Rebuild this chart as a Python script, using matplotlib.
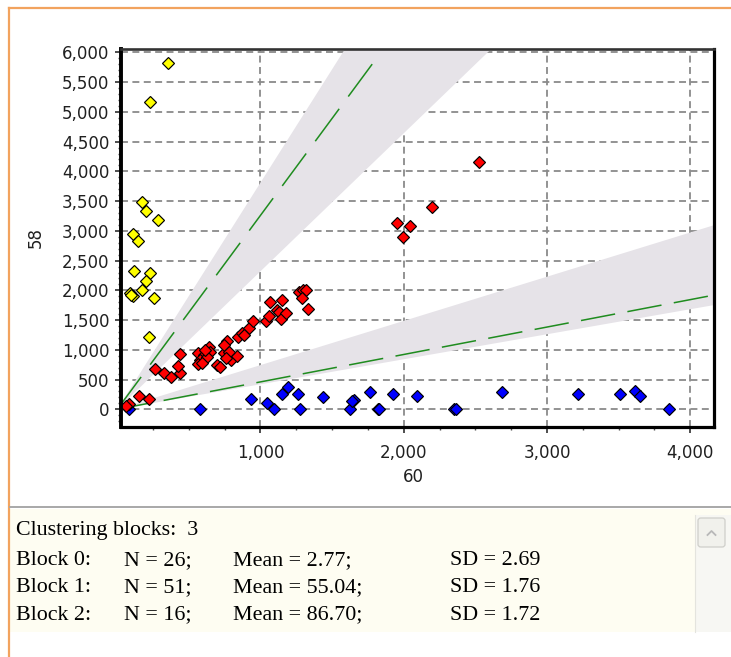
import matplotlib
matplotlib.use('Agg')
import matplotlib.pyplot as plt
from matplotlib.patches import Rectangle, FancyBboxPatch
from matplotlib.lines import Line2D
from matplotlib.ticker import FixedLocator, MultipleLocator, FuncFormatter

plt.rcParams['lines.scale_dashes'] = False

# ---------------- data ----------------
yellow_x = [353, 232, 174, 202, 286, 109, 146, 119, 232, 204, 174, 88, 107, 256, 221, 98]
yellow_y = [5822, 5173, 3490, 3327, 3176, 2953, 2829, 2326, 2292, 2158, 2002, 1956, 1901, 1873, 1208, 1930]

red_x = [81, 151, 221, 267, 325, 379, 435, 425, 435, 565, 639, 651, 605, 581, 563, 628, 593,
         698, 716, 744, 767, 744, 796, 837, 844, 872, 923, 949, 1040, 1063, 1070, 1112, 1128,
         1151, 1140, 1180, 1267, 1295, 1319, 1288, 1331, 2523, 2198, 1954, 2047, 1994,
         60, 779, 756, 885, 610]
red_y = [84, 228, 173, 676, 614, 537, 604, 731, 928, 940, 1050, 966, 911, 827, 755, 872, 782,
         743, 715, 939, 1146, 1079, 827, 894, 1218, 1285, 1359, 1487, 1487, 1565, 1805, 1678, 1638,
         1840, 1515, 1621, 1973, 2002, 2013, 1868, 1680, 4154, 3399, 3138, 3081, 2896,
         50, 956, 860, 1250, 990]

blue_x = [81, 581, 937, 1047, 1093, 1151, 1193, 1263, 1274, 1437, 1623, 1651, 1763, 1821,
          1926, 2093, 2349, 2365, 2687, 3217, 3507, 3617, 3647, 3854, 1640, 1830]
blue_y = [0, 0, 168, 100, 0, 257, 380, 257, 0, 201, 0, 156, 285, 0,
          257, 228, 0, 0, 285, 257, 257, 307, 228, 0, 140, 0]

boundary_slopes = [3.26, 0.461]            # green dashed boundary lines
boundary_xmax = [1840, 4300]               # extent of each boundary line
band_slopes = [(2.32, 3.81), (0.4206, 0.743)]  # shaded bands

x_ticks = [1000, 2000, 3000, 4000]
y_ticks = list(range(0, 6001, 500))

summary_header = "Clustering blocks:  3"
block_names = ["Block 0:", "Block 1:", "Block 2:"]
block_n = [26, 51, 16]
block_mean = ["2.77", "55.04", "86.70"]
block_sd = ["2.69", "1.76", "1.72"]

# ---------------- figure ----------------
W, H = 731, 657
fig = plt.figure(figsize=(W / 100, H / 100), dpi=100)
fig.patch.set_facecolor('white')


def fx(px):
    return px / W


def fy(py):
    return 1 - py / H


ax_l, ax_r, ax_t, ax_b = 120.5, 714.3, 48.7, 426.7
ax = fig.add_axes([fx(ax_l), fy(ax_b), (ax_r - ax_l) / W, (ax_b - ax_t) / H])
ax.set_xlim(23, 4168)
ax.set_ylim(-292, 6062)

# bands
Xbig = 6000
for s1, s2 in band_slopes:
    ax.fill([0, Xbig, Xbig], [0, s1 * Xbig, s2 * Xbig], color='#E6E3E8', lw=0, zorder=1)

# grid
ax.set_axisbelow(True)
ax.grid(True, which='major', color='#8A8A8A', linestyle=(0, (5, 3.2)), linewidth=1.3, zorder=0.5)

# boundary lines
dash_sets = [(0, (29, 11)), (0, (25, 9))]
for s, xm, ds in zip(boundary_slopes, boundary_xmax, dash_sets):
    ax.plot([0, xm], [0, s * xm], color='#1F8C1F', linewidth=1.1, linestyle=ds, zorder=2)

# points
mk = dict(marker='D', linestyle='none', markersize=6.1, markeredgecolor='black',
          markeredgewidth=0.85, zorder=4)
ax.plot(blue_x, blue_y, markerfacecolor='#0000FF', **mk)
ax.plot(red_x, red_y, markerfacecolor='#FF0000', **mk)
ax.plot(yellow_x, yellow_y, markerfacecolor='#FFFF00', **mk)

# ticks
fmt = FuncFormatter(lambda v, p: '{:,.0f}'.format(v))
ax.xaxis.set_major_locator(FixedLocator(x_ticks))
ax.xaxis.set_minor_locator(MultipleLocator(250))
ax.yaxis.set_major_locator(FixedLocator(y_ticks))
ax.yaxis.set_minor_locator(MultipleLocator(100))
ax.xaxis.set_major_formatter(fmt)
ax.yaxis.set_major_formatter(fmt)
ax.tick_params(axis='both', which='major', direction='out', length=4.5, width=1.2,
               color='#303030', labelsize=12, labelcolor='#202020')
ax.tick_params(axis='x', which='major', pad=8.0)
ax.tick_params(axis='y', which='major', pad=3.5)
ax.tick_params(axis='both', which='minor', direction='out', length=2.3, width=1.0, color='#505050')
for lab in ax.get_xticklabels() + ax.get_yticklabels():
    lab.set_family('DejaVu Sans')

# spines
for side, lw, col in [('left', 2.8, '#000000'), ('bottom', 2.3, '#000000'),
                      ('right', 2.3, '#000000'), ('top', 1.9, '#333333')]:
    ax.spines[side].set_linewidth(lw)
    ax.spines[side].set_color(col)
    ax.spines[side].set_zorder(5)

# axis labels
ax.set_xlabel('60', fontsize=12, family='DejaVu Sans', color='#202020', va='center')
ax.xaxis.set_label_coords((413 - ax_l) / (ax_r - ax_l), (ax_b - 477) / (ax_b - ax_t))
ax.set_ylabel('58', fontsize=12, family='DejaVu Sans', color='#202020', va='center', ha='center')
ax.yaxis.set_label_coords((36 - ax_l) / (ax_r - ax_l), (ax_b - 237) / (ax_b - ax_t))

# ---------------- frame and lower panel ----------------
orange = '#F2A35E'
fig.add_artist(Line2D([fx(9), fx(9)], [fy(8), fy(657)], color=orange, linewidth=1.6))
fig.add_artist(Line2D([fx(9), fx(731)], [fy(8), fy(8)], color=orange, linewidth=1.6))
fig.add_artist(Line2D([fx(10), fx(731)], [fy(507), fy(507)], color='#A8A8A8', linewidth=1.4))
fig.add_artist(Rectangle((fx(10), fy(632)), fx(731) - fx(10), (632 - 508.5) / H,
                         facecolor='#FEFDF2', edgecolor='none'))
# scrollbar
fig.add_artist(Rectangle((fx(695), fy(632)), fx(36), (632 - 515) / H,
                         facecolor='#F7F7F3', edgecolor='none'))
fig.add_artist(Line2D([fx(695), fx(695)], [fy(515), fy(632)], color='#E4E4DE', linewidth=0.8))
fig.add_artist(FancyBboxPatch((fx(698), fy(547)), fx(27), (547 - 518) / H,
                              boxstyle='round,pad=0,rounding_size=0.004',
                              facecolor='#F1F1EC', edgecolor='#CFCFCA', linewidth=0.9))
fig.add_artist(Line2D([fx(707.5), fx(711.5), fx(715.5)], [fy(535), fy(531), fy(535)],
                      color='#B8B8B8', linewidth=1.3))

serif = 'Liberation Serif'
tsize = 15.8
fig.text(fx(16), fy(531), summary_header, family=serif, fontsize=tsize, va='center', ha='left')
row_y = [560.5, 588, 615]
for yy, name, n, m, sd in zip(row_y, block_names, block_n, block_mean, block_sd):
    fig.text(fx(16), fy(yy), name, family=serif, fontsize=tsize, va='center', ha='left')
    fig.text(fx(123.5), fy(yy), 'N = {};'.format(n), family=serif, fontsize=tsize, va='center', ha='left')
    fig.text(fx(233), fy(yy), 'Mean = {};'.format(m), family=serif, fontsize=tsize, va='center', ha='left')
    fig.text(fx(450), fy(yy), 'SD = {}'.format(sd), family=serif, fontsize=tsize, va='center', ha='left')

fig.savefig('out.png', dpi=100)
